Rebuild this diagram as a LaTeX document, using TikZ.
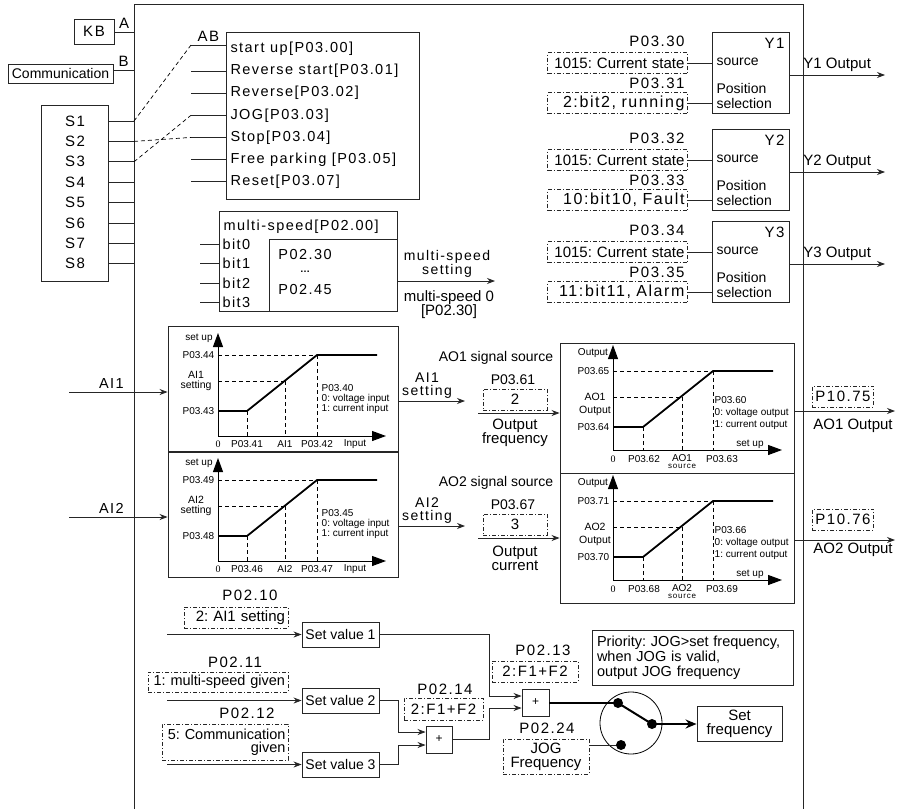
\documentclass[tikz,border=0pt]{standalone}
\usepackage{fontspec}
\setmainfont{Liberation Sans}
\newfontfamily\spfont[LetterSpace=10]{Liberation Sans}
\newfontfamily\serf{Liberation Serif}
\usetikzlibrary{arrows.meta, calc, positioning}
\frenchspacing

\tikzset{
  blk/.style={draw=black!85, line width=0.9pt, inner sep=0pt},
  prm/.style={draw=black!85, line width=0.7pt,
    dash pattern=on 4pt off 2pt on 1pt off 2pt,
    inner xsep=3pt, inner ysep=1pt, align=right},
  wire/.style={draw=black!85, line width=0.8pt},
  sig/.style={wire, -{Stealth[length=8pt,width=6pt]}},
  ax/.style={line width=1pt, -{Triangle[length=14pt,width=10pt]}},
  crv/.style={line width=1.8pt},
  guide/.style={line width=0.7pt, dash pattern=on 4pt off 3pt},
  txt/.style={font=\fontsize{14}{15}\selectfont},
  big/.style={font=\fontsize{15}{14}\selectfont},
  sp/.style={font=\spfont\fontsize{14.5}{16}\selectfont},
  spb/.style={font=\spfont\fontsize{15}{16}\selectfont},
  sm/.style={font=\fontsize{10}{10}\selectfont, inner sep=0.5pt},
}

\begin{document}
\begin{tikzpicture}[x=1pt, y=-1pt]
\useasboundingbox (0,0) rectangle (897,809);

% ---- frame ----
\draw[wire] (134,809) -- (134,4) -- (803,4) -- (803,809);

% ---- sources and terminals ----
\node[blk, spb, minimum width=40, minimum height=25] (kb) at (94,31.5) {KB};
\node[blk, txt, minimum width=105, minimum height=19] (comm) at (60.5,73.5) {Communication};
\coordinate (fA) at (134,32);
\coordinate (fB) at (134,70);
\draw[wire] (kb.east |- fA) -- (fA) node[spb, midway, above] {A};
\draw[wire] (comm.east |- fB) -- (fB) node[spb, midway, above] {B};

\node[blk, minimum width=67, minimum height=176] (sbox) at (74.5,193) {};
\foreach \i in {1,...,8}{
  \node[spb] (s\i) at (75,{121+20.4*(\i-1)}) {S\i};
  \coordinate (t\i) at (134,{121+20.4*(\i-1)});
  \draw[wire] (sbox.east |- t\i) -- (t\i);
}

% ---- run commands ----
\node[blk, minimum width=193, minimum height=167] (cmd) at (322.5,115.5) {};
\foreach \k/\c in {1/{start up[P03.00]}, 2/{Reverse start[P03.01]},
    3/{Reverse[P03.02]}, 4/{JOG[P03.03]}, 5/{Stop[P03.04]},
    6/{Free parking [P03.05]}, 7/{Reset[P03.07]}}{
  \node[sp, anchor=west] (c\k) at (227,{49+22.1*(\k-1)}) {\c};
  \coordinate (e\k) at (191,{49+22.1*(\k-1)});
}
\coordinate (e1) at (191,45);
\draw[wire] (e1) -- (e1 -| cmd.west) node[spb, midway, above] {AB};
\foreach \k in {2,...,7}
  \draw[wire] (e\k) -- (e\k -| cmd.west);
\draw[guide] (t1) -- (e1);
\draw[guide] (t2) -- (e5);
\draw[guide] (t3) -- (e4);

% ---- multi-speed ----
\node[blk, minimum width=178, minimum height=100] (ms) at (308,261) {};
\node[blk, minimum width=128, minimum height=72] (msin) at (333,275) {};
\node[sp, anchor=west] (mst) at (220,227) {multi-speed[P02.00]};
\node[sp, inner sep=1pt] (m1) at (305,255) {P02.30};
\node[font=\bfseries\fontsize{10}{10}\selectfont, inner sep=0pt] (m2) at (305,272) {\ldots};
\node[sp, inner sep=1pt] (m3) at (305,290) {P02.45};
\foreach \b/\y in {0/244, 1/263, 2/283, 3/302}{
  \node[sp, anchor=west] (b\b) at (219,\y) {bit\b};
  \coordinate (bi\b) at (200,\y);
  \draw[wire] (bi\b) -- (bi\b -| ms.west);
}
\coordinate (msout) at (495,281);
\draw[sig] (msin.east |- msout) -- (msout);
\node[font=\spfont\fontsize{14}{14}\selectfont, align=center] (mslab) at (447,264) {multi-speed\\setting};
\node[big, align=center] (ms0) at (449,305) {multi-speed 0\\{[P02.30]}};

% ---- Y outputs ----
\foreach \k/\T/\pa/\pb/\sb in {1/32/P03.30/P03.31/{2:bit2, running},
    2/129/P03.32/P03.33/{10:bit10, Fault}, 3/221/P03.34/P03.35/{11:bit11, Alarm}}{
  \node[blk, minimum width=77, minimum height=81] (y\k) at (750.5,\T+40.5) {};
  \node[spb, anchor=east] (yl\k) at (788,\T+11) {Y\k};
  \node[txt, anchor=west] (ys\k) at (713,\T+30) {source};
  \node[txt, anchor=west, align=left] (yp\k) at (713,\T+64) {Position\\selection};
  \node[spb, anchor=east] (pa\k) at (688,\T+9) {\pa};
  \node[prm, big, text width=134, minimum height=21] (qa\k) at (617.5,\T+31) {1015: Current state};
  \node[spb, anchor=east] (pb\k) at (688,\T+51) {\pb};
  \node[prm, font=\spfont\fontsize{16}{16}\selectfont, text width=134, minimum height=21] (qb\k) at (617.5,\T+71) {\sb};
  \draw[wire] (qa\k.east) -- (qa\k.east -| y\k.west);
  \draw[wire] (qb\k.east) -- (qb\k.east -| y\k.west);
  \coordinate (yo\k) at (885,\T+43);
  \draw[sig] (yo\k -| y\k.east) -- (yo\k) node[big, midway, above] {Y\k\ Output};
}

% ---- AO characteristic charts ----
\foreach \k/\hi/\lo/\xa/\xb/\sel in {1/P03.65/P03.64/P03.62/P03.63/P03.60,
    2/P03.71/P03.70/P03.68/P03.69/P03.66}{
  \begin{scope}[shift={(0,{130*(\k-1)})}]
    \node[blk, minimum width=234, minimum height=130] (ao\k) at (677,408) {};
    \draw[ax] (613,450) -- (613,345);
    \draw[ax] (613,450) -- (782,450);
    \draw[crv] (613,427) -- (643,427) -- (713,371) -- (773,371);
    \draw[guide] (613,371) -- (713,371) (613,397) -- (682,397)
      (643,427) -- (643,450) (682,397) -- (682,450) (713,371) -- (713,450);
    \node[sm] (aoy\k) at (593,353) {Output};
    \node[sm, anchor=east] (aoh\k) at (610,371) {\hi};
    \node[font=\fontsize{10.5}{13}\selectfont, align=center] (aoo\k) at (595,404) {AO\k\\Output};
    \node[sm, anchor=east] (aol\k) at (610,427) {\lo};
    \node[sm] (aoz\k) at (613,459) {\serf 0};
    \node[sm] (aoa\k) at (644,459) {\xa};
    \node[sm] (aos\k) at (682,458) {AO\k};
    \node[font=\spfont\fontsize{8}{8}\selectfont, inner sep=0pt] (aoss\k) at (682,466) {source};
    \node[sm] (aob\k) at (722,459) {\xb};
    \node[sm] (aou\k) at (750,444) {set up};
    \node[font=\fontsize{10}{12}\selectfont, anchor=west, align=left, inner sep=0.5pt] (aot\k) at (714,413)
      {\sel\\0: voltage output\\1: current output};
  \end{scope}
}
\foreach \k/\yl/\yb/\yt/\pout in {1/411/396.5/426/P10.75, 2/540/519.5/550/P10.76}{
  \coordinate (aout\k) at (895,\yl);
  \draw[sig] (aout\k -| ao\k.east) -- (aout\k);
  \node[prm, spb, minimum width=60, minimum height=21, align=center] (pv\k) at (843,\yb) {\pout};
  \node[big] (aolab\k) at (853,\yt) {AO\k\ Output};
}

% ---- AI characteristic charts ----
\foreach \k/\hi/\lo/\xa/\xb/\sel/\pnum/\val/\q in
    {1/P03.44/P03.43/P03.41/P03.42/P03.40/P03.61/2/{Output\\frequency},
     2/P03.49/P03.48/P03.46/P03.47/P03.45/P03.67/3/{Output\\current}}{
  \begin{scope}[shift={(0,{125*(\k-1)})}]
    \node[blk, minimum width=230, minimum height=126] (ai\k) at (283,389) {};
    \draw[ax] (218,436) -- (218,333);
    \draw[ax] (218,436) -- (386,436);
    \draw[crv] (218,411) -- (247,411) -- (317,355) -- (377,355);
    \draw[guide] (218,355) -- (317,355) (218,381) -- (285,381)
      (247,411) -- (247,436) (285,381) -- (285,436) (317,355) -- (317,436);
    \node[sm] (aiy\k) at (199,338) {set up};
    \node[sm, anchor=east] (aih\k) at (215,355) {\hi};
    \node[font=\fontsize{10.5}{10}\selectfont, align=center] (aim\k) at (196,381) {AI\k\\setting};
    \node[sm, anchor=east] (ail\k) at (215,411) {\lo};
    \node[sm] (aiz\k) at (218,444) {\serf 0};
    \node[sm] (aia\k) at (247,444) {\xa};
    \node[sm] (ais\k) at (285,444) {AI\k};
    \node[sm] (aib\k) at (317,444) {\xb};
    \node[sm] (aiu\k) at (355,444) {Input};
    \node[font=\fontsize{10}{10}\selectfont, anchor=west, align=left, inner sep=0.5pt] (ait\k) at (321,399)
      {\sel\\0: voltage input\\1: current input};
    % input and output of the chart
    \coordinate (ain\k) at (69,392);
    \draw[sig] (ain\k) -- (ain\k -| ai\k.west) node[sp, pos=0.43, above] {AI\k};
    \coordinate (aso\k) at (465,401);
    \draw[sig] (aso\k -| ai\k.east) -- (aso\k);
    \node[font=\spfont\fontsize{14}{13}\selectfont, align=center] (asl\k) at (427,386) {AI\k\\setting};
    % AO signal source
    \node[txt] (aosrc\k) at (496,358) {AO\k\ signal source};
    \node[txt] (aop\k) at (513,380) {\pnum};
    \node[prm, big, minimum width=64, minimum height=21, align=center] (aov\k) at (515,399.5) {\val};
    \coordinate (aoin\k) at (478,413);
    \draw[sig] (aoin\k) -- (aoin\k -| ao\k.west);
    \node[big, align=center] (aoq\k) at (515,433) {\q};
  \end{scope}
}

% ---- frequency setting ----
\node[spb] (p10) at (250,595) {P02.10};
\node[prm, big, text width=98, minimum height=21] (q10) at (236,617.5) {2: AI1 setting};
\node[blk, txt, minimum width=77, minimum height=25] (sv1) at (340.5,634.5) {Set value 1};
\coordinate (in1) at (167,634.5);
\draw[sig] (in1) -- (sv1.west);

\node[spb] (p11) at (235,662) {P02.11};
\node[prm, font=\fontsize{14.5}{14}\selectfont, text width=134, minimum height=20] (q11) at (218,682) {1: multi-speed given};
\node[blk, txt, minimum width=77, minimum height=25] (sv2) at (340.5,700.5) {Set value 2};
\coordinate (in2) at (167,700.5);
\draw[sig] (in2) -- (sv2.west);

\node[spb] (p12) at (247,713) {P02.12};
\node[prm, font=\fontsize{14.5}{13}\selectfont, text width=121, inner xsep=2.5pt, minimum height=36] (q12) at (225,742) {\mbox{5: Communication}\\given};
\node[blk, txt, minimum width=77, minimum height=25] (sv3) at (340.5,764.5) {Set value 3};
\coordinate (in3) at (167,764.5);
\draw[sig] (in3) -- (sv3.west);

\node[blk, minimum width=26, minimum height=27, font=\fontsize{12}{12}\selectfont] (sum1) at (439,739.5) {+};
\node[spb] (p14) at (445,689) {P02.14};
\node[prm, spb, minimum width=79, minimum height=22, align=center] (q14) at (443.5,709) {2:F1+F2};
\node[blk, minimum width=27, minimum height=27, font=\fontsize{12}{12}\selectfont] (sum2) at (535.5,702.5) {+};
\node[spb] (p13) at (543,650) {P02.13};
\node[prm, spb, minimum width=86, minimum height=21, align=center] (q13) at (535,671.5) {2:F1+F2};

\coordinate (j1) at (398,732);
\coordinate (j2) at (398,745);
\coordinate (j3) at (489,708);
\coordinate (j4) at (489,696);
\draw[sig] (sv2.east) -| (j1) -- (sum1.west |- j1);
\draw[sig] (sv3.east) -| (j2) -- (sum1.west |- j2);
\draw[sig] (sum1.east) -| (j3) -- (sum2.west |- j3);
\draw[sig] (sv1.east) -| (j4) -- (sum2.west |- j4);

% ---- JOG switch ----
\coordinate (swA) at (618,703);
\coordinate (swO) at (652,724);
\coordinate (swB) at (621,745);
\draw[line width=0.8pt] (631,723) circle[radius=31pt];
\node[blk, big, minimum width=85, minimum height=35, align=center] (setf) at (739.5,723.5) {Set\\frequency};
\node[spb] (p24) at (547,728) {P02.24};
\node[prm, big, minimum width=86, minimum height=35, align=center] (jog) at (546,756.5) {JOG\\Frequency};
\draw[line width=2pt] (sum2.east) -- (sum2.east -| swA);
\draw[line width=2pt] (swA) -- (swO);
\draw[line width=2pt, -{Stealth[length=11pt,width=9pt]}] (swO) -- (setf.west |- swO);
\draw[wire] (jog.east |- swB) -- (swB);
\fill (swA) circle[radius=5pt] (swO) circle[radius=5pt] (swB) circle[radius=5pt];
\node[blk, font=\fontsize{14.5}{15}\selectfont, minimum width=201, minimum height=55, text width=191, align=left]
  (prio) at (692.5,657.5) {Priority: JOG>set frequency,\\when JOG is valid,\\output JOG frequency};

\end{tikzpicture}
\end{document}
